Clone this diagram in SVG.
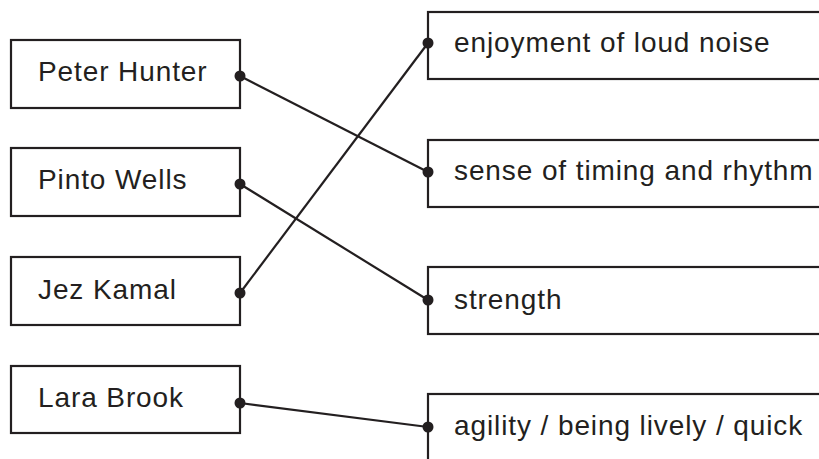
<svg xmlns="http://www.w3.org/2000/svg" width="819" height="459" viewBox="0 0 819 459">
<style>
.box{fill:#fff;stroke:#231f20;stroke-width:2.2}
.lbl{font-family:"Liberation Sans",Arial,sans-serif;font-size:28px;letter-spacing:0.9px;fill:#231f20}
.con{stroke:#231f20;stroke-width:2.2;fill:none}
.dot{fill:#231f20}
</style>
<rect width="819" height="459" fill="#fff"/>
<g id="connectors">
<line class="con" x1="240" y1="76" x2="428" y2="172"/>
<line class="con" x1="240" y1="184" x2="428" y2="300"/>
<line class="con" x1="240" y1="293" x2="428" y2="43"/>
<line class="con" x1="240" y1="403" x2="428" y2="427"/>
</g>
<g id="peter"><rect class="box" x="11" y="40" width="229" height="68"/><text class="lbl" x="38" y="81">Peter Hunter</text><circle class="dot" cx="240" cy="76" r="5.5"/></g>
<g id="pinto"><rect class="box" x="11" y="148" width="229" height="68"/><text class="lbl" x="38" y="189">Pinto Wells</text><circle class="dot" cx="240" cy="184" r="5.5"/></g>
<g id="jez"><rect class="box" x="11" y="257" width="229" height="68"/><text class="lbl" x="38" y="299">Jez Kamal</text><circle class="dot" cx="240" cy="293" r="5.5"/></g>
<g id="lara"><rect class="box" x="11" y="366" width="229" height="67"/><text class="lbl" x="38" y="407">Lara Brook</text><circle class="dot" cx="240" cy="403" r="5.5"/></g>
<g id="enjoyment"><rect class="box" x="428" y="12" width="410" height="67"/><text class="lbl" x="454" y="52">enjoyment of loud noise</text><circle class="dot" cx="428" cy="43" r="5.5"/></g>
<g id="timing"><rect class="box" x="428" y="140" width="410" height="67"/><text class="lbl" x="454" y="180">sense of timing and rhythm</text><circle class="dot" cx="428" cy="172" r="5.5"/></g>
<g id="strength"><rect class="box" x="428" y="267" width="410" height="67"/><text class="lbl" x="454" y="309">strength</text><circle class="dot" cx="428" cy="300" r="5.5"/></g>
<g id="agility"><rect class="box" x="428" y="394" width="410" height="90"/><text class="lbl" x="454" y="435">agility / being lively / quick</text><circle class="dot" cx="428" cy="427" r="5.5"/></g>
</svg>
